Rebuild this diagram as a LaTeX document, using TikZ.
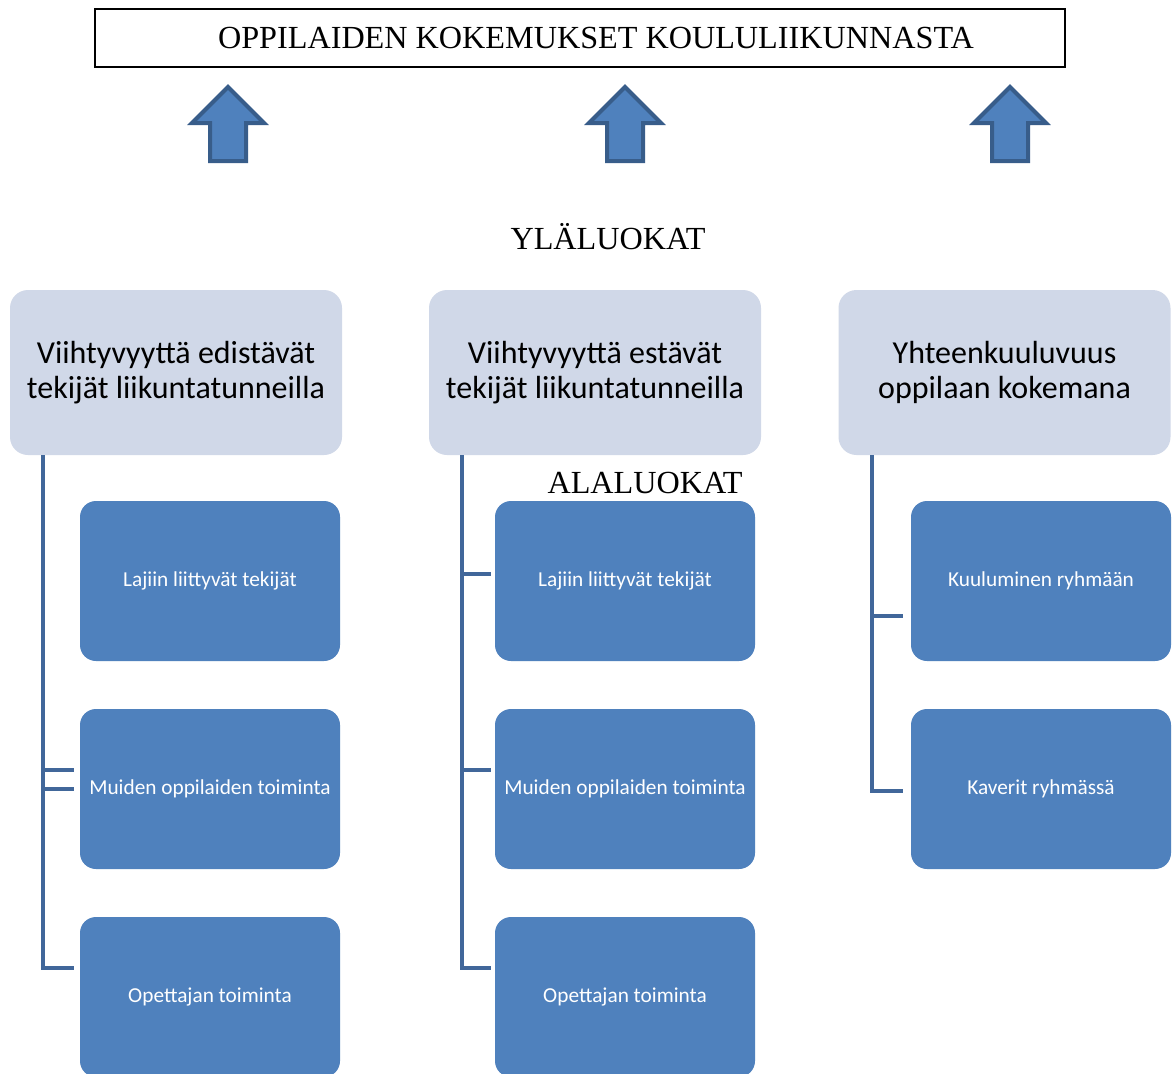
\documentclass[tikz,border=0pt]{standalone}
\usepackage{fontspec}
\setmainfont{Liberation Serif}
\newfontfamily\calfont{Carlito}
\usetikzlibrary{calc}
\definecolor{hdrfill}{HTML}{D0D8E8}
\definecolor{boxfill}{HTML}{4F81BD}
\definecolor{connclr}{HTML}{41679A}
\definecolor{arrowline}{HTML}{385D8A}
\tikzset{
  titlebox/.style={draw=black, line width=1.3pt, minimum width=970pt, minimum height=58pt, inner sep=0pt},
  titletext/.style={inner sep=0pt, font=\fontsize{32.2}{36}\selectfont},
  hdrbox/.style={fill=hdrfill, rounded corners=18pt, minimum width=332pt, minimum height=165pt, inner sep=0pt, align=center, font=\calfont\fontsize{32}{35}\selectfont},
  childbox/.style={fill=boxfill, rounded corners=16pt, minimum width=260pt, minimum height=160pt, inner sep=0pt, align=center, text=white, font=\calfont\fontsize{21.3}{24}\selectfont},
  lbl/.style={inner sep=0pt, font=\fontsize{32.2}{34}\selectfont},
  conn/.style={draw=connclr, line width=4pt},
  uparrow/.style={fill=boxfill, draw=arrowline, line width=4pt, line join=miter},
}
\begin{document}
\begin{tikzpicture}[x=1pt,y=-1pt]
\useasboundingbox (0,0) rectangle (1174,1073);
\clip (0,0) rectangle (1174,1073);
\fill[white] (0,0) rectangle (1174,1073);

\node[titlebox] (title) at (580,38) {};
\node[titletext] (titletxt) at (596,38) {OPPILAIDEN KOKEMUKSET KOULULIIKUNNASTA};

\foreach \cx in {228,625,1010}{
  \draw[uparrow] (\cx,87) -- (\cx+36,123) -- (\cx+18,123) -- (\cx+18,161) -- (\cx-18,161) -- (\cx-18,123) -- (\cx-36,123) -- cycle;
}

\node[lbl] (yla) at (608,237) {YLÄLUOKAT};

\node[hdrbox] (h1) at (176,372.5) {Viihtyvyyttä edistävät\\tekijät liikuntatunneilla};
\node[hdrbox] (h2) at (595,372.5) {Viihtyvyyttä estävät\\tekijät liikuntatunneilla};
\node[hdrbox] (h3) at (1004.5,372.5) {Yhteenkuuluvuus\\oppilaan kokemana};

\node[lbl] (ala) at (645,483) {ALALUOKAT};

\node[childbox] (c11) at (210,581) {Lajiin liittyvät tekijät};
\node[childbox] (c12) at (210,789) {Muiden oppilaiden toiminta};
\node[childbox] (c13) at (210,997) {Opettajan toiminta};

\node[childbox] (c21) at (625,581) {Lajiin liittyvät tekijät};
\node[childbox] (c22) at (625,789) {Muiden oppilaiden toiminta};
\node[childbox] (c23) at (625,997) {Opettajan toiminta};

\node[childbox] (c31) at (1041,581) {Kuuluminen ryhmään};
\node[childbox] (c32) at (1041,789) {Kaverit ryhmässä};

% column 1 connectors
\coordinate (t1a) at ($(c12.west)+(-6,-19)$);
\coordinate (t1b) at ($(c12.west)+(-6,0)$);
\coordinate (t1c) at ($(c13.west)+(-6,-29)$);
\draw[conn] ($(h1.south west)+(33,0)$) |- (t1c);
\draw[conn] ($(h1.south west)+(33,0)$) |- (t1a);
\draw[conn] ($(h1.south west)+(33,0)$) |- (t1b);

% column 2 connectors
\coordinate (t2a) at ($(c21.west)+(-4,-7)$);
\coordinate (t2b) at ($(c22.west)+(-4,-19)$);
\coordinate (t2c) at ($(c23.west)+(-4,-29)$);
\draw[conn] ($(h2.south west)+(33,0)$) |- (t2c);
\draw[conn] ($(h2.south west)+(33,0)$) |- (t2a);
\draw[conn] ($(h2.south west)+(33,0)$) |- (t2b);

% column 3 connectors
\coordinate (t3a) at ($(c31.west)+(-8,35)$);
\coordinate (t3b) at ($(c32.west)+(-8,2)$);
\draw[conn] ($(h3.south west)+(34,0)$) |- (t3b);
\draw[conn] ($(h3.south west)+(34,0)$) |- (t3a);
\end{tikzpicture}
\end{document}
